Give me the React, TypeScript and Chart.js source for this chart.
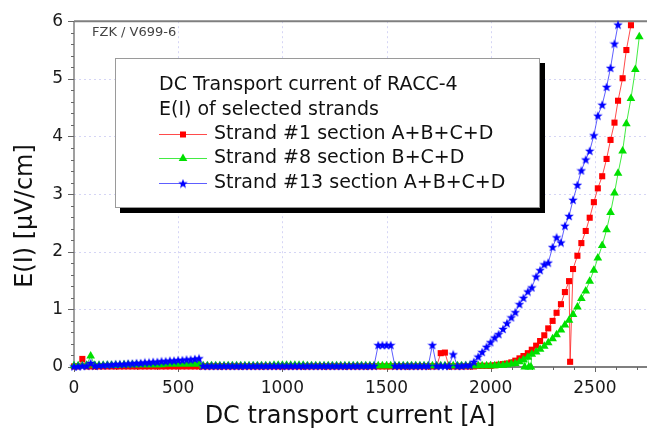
import React, { useEffect, useRef } from 'react';
import { Chart, registerables } from 'chart.js';

Chart.register(...registerables);

const FONT = '"DejaVu Sans", "Liberation Sans", Arial, sans-serif';

// ---- data (current in A, E in µV/cm) ----
const lowCurrent = [
  0, 20, 40, 60, 80, 100, 120, 140, 160, 180, 200, 220, 240, 260, 280, 300, 320, 340, 360, 380,
  400, 420, 440, 460, 480, 500, 520, 540, 560, 580, 600, 620, 640, 660, 680, 700, 720, 740, 760, 780,
  800, 820, 840, 860, 880, 900, 920, 940, 960, 980, 1000, 1020, 1040, 1060, 1080, 1100, 1120, 1140, 1160, 1180,
  1200, 1220, 1240, 1260, 1280, 1300, 1320, 1340, 1360, 1380, 1400, 1420, 1440, 1460, 1480, 1500, 1520, 1540, 1560, 1580,
  1600, 1620, 1640, 1660, 1680, 1700, 1720, 1740, 1760, 1780, 1800, 1820, 1840, 1860, 1880,
];
const highCurrent = [
  1900, 1919, 1940, 1959, 1980, 1999, 2019, 2038, 2059, 2078, 2099, 2118, 2138, 2157, 2178, 2197, 2218, 2237, 2257, 2276,
  2297, 2316, 2337, 2356, 2376, 2395, 2416, 2435, 2456, 2475, 2495, 2514, 2535, 2556, 2575, 2594, 2611, 2633, 2651, 2673,
  2694, 2713,
];

const redLow = [
  0.01, 0.01, 0.14, 0.01, 0.01, 0.01, 0.01, 0.01, 0.01, 0.01, 0.01, 0.01, 0.01, 0.01, 0.01, 0.01, 0.01, 0.01, 0.01, 0.01,
  0.01, 0.01, 0.01, 0.01, 0.01, 0.01, 0.01, 0.01, 0.01, 0.01, 0.01, 0.01, 0.01, 0.01, 0.01, 0.01, 0.01, 0.01, 0.01, 0.01,
  0.01, 0.01, 0.01, 0.01, 0.01, 0.01, 0.01, 0.01, 0.01, 0.01, 0.01, 0.01, 0.01, 0.01, 0.01, 0.01, 0.01, 0.01, 0.01, 0.01,
  0.01, 0.01, 0.01, 0.01, 0.01, 0.01, 0.01, 0.01, 0.01, 0.01, 0.01, 0.01, 0.01, 0.01, 0.01, 0.01, 0.01, 0.01, 0.01, 0.01,
  0.01, 0.01, 0.01, 0.01, 0.01, 0.01, 0.01, 0.01, 0.24, 0.25, 0.01, 0.01, 0.01, 0.01, 0.01,
];
const redHigh = [
  0.01, 0.01, 0.02, 0.02, 0.02, 0.02, 0.03, 0.04, 0.05, 0.06, 0.08, 0.11, 0.15, 0.19, 0.24, 0.30, 0.37, 0.45, 0.55, 0.67,
  0.80, 0.94, 1.09, 1.30, 1.49, 1.70, 1.93, 2.15, 2.36, 2.59, 2.86, 3.10, 3.31, 3.61, 3.94, 4.24, 4.62, 5.01, 5.50, 5.93,
  null, null,
];
const redDropCurrent = [2381];
const redDropE = [0.09];

const greenLow = [
  0.02, 0.02, 0.02, 0.03, 0.19, 0.03, 0.03, 0.03, 0.03, 0.03, 0.03, 0.03, 0.04, 0.04, 0.04, 0.04, 0.04, 0.04, 0.04, 0.04,
  0.04, 0.04, 0.05, 0.05, 0.05, 0.05, 0.05, 0.05, 0.05, 0.05, 0.05, 0.02, 0.02, 0.02, 0.02, 0.02, 0.02, 0.02, 0.02, 0.02,
  0.02, 0.02, 0.02, 0.02, 0.02, 0.02, 0.02, 0.02, 0.03, 0.03, 0.03, 0.03, 0.03, 0.03, 0.03, 0.03, 0.02, 0.02, 0.02, 0.02,
  0.02, 0.02, 0.02, 0.02, 0.02, 0.02, 0.02, 0.02, 0.02, 0.02, 0.02, 0.02, 0.02, 0.02, 0.02, 0.02, 0.02, 0.02, 0.02, 0.02,
  0.02, 0.02, 0.02, 0.02, 0.02, 0.02, 0.02, 0.02, 0.02, 0.02, 0.02, 0.02, 0.02, 0.02, 0.02,
];
const greenHigh = [
  0.02, 0.02, 0.02, 0.02, 0.02, 0.02, 0.02, 0.03, 0.03, 0.04, 0.05, 0.06, 0.09, 0.125, 0.17, 0.22, 0.26, 0.31, 0.36, 0.42,
  0.49, 0.56, 0.64, 0.73, 0.81, 0.91, 1.04, 1.19, 1.32, 1.49, 1.68, 1.89, 2.11, 2.38, 2.68, 3.02, 3.36, 3.75, 4.22, 4.66,
  5.16, 5.73,
];
const greenDropCurrent = [2163, 2183, 2193];
const greenDropE = [0, 0, 0];

const blueLow = [
  0.01, 0.01, 0.02, 0.02, 0.07, 0.02, 0.03, 0.03, 0.04, 0.04, 0.05, 0.05, 0.05, 0.06, 0.06, 0.07, 0.07, 0.08, 0.08, 0.09,
  0.09, 0.10, 0.10, 0.11, 0.11, 0.12, 0.12, 0.13, 0.13, 0.14, 0.15, 0.02, 0.02, 0.02, 0.02, 0.02, 0.02, 0.02, 0.02, 0.02,
  0.02, 0.02, 0.02, 0.02, 0.02, 0.02, 0.02, 0.02, 0.02, 0.02, 0.02, 0.02, 0.02, 0.02, 0.02, 0.02, 0.02, 0.02, 0.02, 0.02,
  0.02, 0.02, 0.02, 0.02, 0.02, 0.02, 0.02, 0.02, 0.02, 0.02, 0.02, 0.02, 0.02, 0.38, 0.38, 0.38, 0.38, 0.02, 0.02, 0.02,
  0.02, 0.02, 0.02, 0.02, 0.02, 0.02, 0.38, 0.02, 0.02, 0.02, 0.02, 0.22, 0.02, 0.02, 0.03,
];
const blueHigh = [
  0.03, 0.09, 0.18, 0.26, 0.35, 0.43, 0.51, 0.57, 0.66, 0.76, 0.86, 0.95, 1.09, 1.20, 1.31, 1.38, 1.57, 1.68, 1.78, 1.81,
  2.08, 2.25, 2.16, 2.45, 2.62, 2.90, 3.16, 3.41, 3.60, 3.75, 4.02, 4.36, 4.55, 4.86, 5.19, 5.61, 5.94, null, null, null,
  null, null,
];

// ---- axes ----
const xMajorTicks = [0, 500, 1000, 1500, 2000, 2500];
const xMinorTicks = [100, 200, 300, 400, 600, 700, 800, 900, 1100, 1200, 1300, 1400, 1600, 1700, 1800, 1900, 2100, 2200, 2300, 2400, 2600, 2700];
const yMajorTicks = [0, 1, 2, 3, 4, 5, 6];
const yMinorTicks = [0.2, 0.4, 0.6, 0.8, 1.2, 1.4, 1.6, 1.8, 2.2, 2.4, 2.6, 2.8, 3.2, 3.4, 3.6, 3.8, 4.2, 4.4, 4.6, 4.8, 5.2, 5.4, 5.6, 5.8];
const xGridLines = [500, 1000, 1500, 2000, 2500];
const yGridLines = [1, 2, 3, 4, 5];
const xMin = 0;
const xMax = 2750;
const yMin = 0;
const yMax = 6;

// ---- texts ----
const legendTitle = ['DC Transport current of RACC-4', 'E(I) of selected strands'];
const seriesNames = ['Strand #1 section A+B+C+D', 'Strand #8 section B+C+D', 'Strand #13 section A+B+C+D'];
const xTitle = 'DC transport current [A]';
const yTitle = 'E(I) [µV/cm]';
const stampText = 'FZK / V699-6';

const RED = '#ff0000';
const GREEN = '#00e000';
const BLUE = '#0000ff';
const RED_LINE = 'rgba(255,30,30,0.8)';
const GREEN_LINE = 'rgba(20,230,20,0.8)';
const BLUE_LINE = 'rgba(40,40,255,0.75)';

function toPoints(xs: number[], ys: (number | null)[], extraX: number[] = [], extraY: number[] = []) {
  const pts: { x: number; y: number }[] = [];
  xs.forEach((x, i) => {
    const v = ys[i];
    if (v !== null && v !== undefined) pts.push({ x, y: v });
  });
  extraX.forEach((x, i) => pts.push({ x, y: extraY[i] }));
  return pts.sort((a, b) => a.x - b.x);
}

function makeStar(color: string, size: number) {
  const c = document.createElement('canvas');
  c.width = size;
  c.height = size;
  const g = c.getContext('2d')!;
  const cx = size / 2, cy = size / 2 + 0.4, ro = size / 2, ri = size * 0.21;
  g.beginPath();
  for (let i = 0; i < 10; i++) {
    const r = i % 2 === 0 ? ro : ri;
    const a = -Math.PI / 2 + (i * Math.PI) / 5;
    const px = cx + r * Math.cos(a), py = cy + r * Math.sin(a);
    if (i === 0) g.moveTo(px, py); else g.lineTo(px, py);
  }
  g.closePath();
  g.fillStyle = color;
  g.fill();
  return c;
}

function drawMarker(ctx: CanvasRenderingContext2D, kind: number, x: number, y: number, star: HTMLCanvasElement) {
  ctx.save();
  if (kind === 0) {
    ctx.fillStyle = RED;
    ctx.fillRect(x - 3, y - 3, 6, 6);
  } else if (kind === 1) {
    ctx.fillStyle = GREEN;
    ctx.beginPath();
    ctx.moveTo(x, y - 5);
    ctx.lineTo(x + 4.3, y + 2.5);
    ctx.lineTo(x - 4.3, y + 2.5);
    ctx.closePath();
    ctx.fill();
  } else {
    ctx.drawImage(star, x - star.width / 2, y - star.height / 2);
  }
  ctx.restore();
}

export default function App() {
  const ref = useRef<HTMLCanvasElement | null>(null);

  useEffect(() => {
    document.body.style.margin = '0';
    const canvas = ref.current;
    if (!canvas) return;
    const star = makeStar(BLUE, 10);

    const deco = {
      id: 'deco',
      beforeDatasetsDraw(chart: any) {
        const { ctx, chartArea: a, scales } = chart;
        const xs = scales.x, ys = scales.y;
        ctx.save();
        // dotted grid
        ctx.strokeStyle = 'rgba(150,150,230,0.4)';
        ctx.lineWidth = 1;
        ctx.setLineDash([2, 3]);
        xGridLines.forEach((v) => {
          const px = Math.round(xs.getPixelForValue(v)) + 0.5;
          ctx.beginPath(); ctx.moveTo(px, a.top); ctx.lineTo(px, a.bottom); ctx.stroke();
        });
        yGridLines.forEach((v) => {
          const py = Math.round(ys.getPixelForValue(v)) + 0.5;
          ctx.beginPath(); ctx.moveTo(a.left, py); ctx.lineTo(a.right, py); ctx.stroke();
        });
        ctx.setLineDash([]);
        // frame lines
        ctx.strokeStyle = '#7f7f7f';
        ctx.lineWidth = 2;
        ctx.beginPath(); ctx.moveTo(a.left, a.top); ctx.lineTo(a.right, a.top); ctx.stroke();
        ctx.beginPath(); ctx.moveTo(a.left - 1, a.bottom); ctx.lineTo(a.right, a.bottom); ctx.stroke();
        ctx.lineWidth = 1.5;
        ctx.beginPath(); ctx.moveTo(a.left, a.top); ctx.lineTo(a.left, a.bottom); ctx.stroke();
        // tick marks
        ctx.strokeStyle = '#666';
        ctx.lineWidth = 1;
        const tickX = (v: number, len: number) => {
          const px = Math.round(xs.getPixelForValue(v)) + 0.5;
          ctx.beginPath(); ctx.moveTo(px, a.bottom); ctx.lineTo(px, a.bottom + len); ctx.stroke();
        };
        const tickY = (v: number, len: number) => {
          const py = Math.round(ys.getPixelForValue(v)) + 0.5;
          ctx.beginPath(); ctx.moveTo(a.left, py); ctx.lineTo(a.left - len, py); ctx.stroke();
        };
        xMajorTicks.forEach((v) => tickX(v, 5));
        xMinorTicks.forEach((v) => tickX(v, 3));
        yMajorTicks.forEach((v) => tickY(v, 6));
        yMinorTicks.forEach((v) => tickY(v, 3));
        // stamp
        ctx.fillStyle = '#444';
        ctx.font = `13px ${FONT}`;
        ctx.textAlign = 'left';
        ctx.textBaseline = 'middle';
        ctx.fillText(stampText, 92, 33);
        ctx.restore();
      },
      afterDraw(chart: any) {
        const { ctx } = chart;
        ctx.save();
        // axis titles
        ctx.fillStyle = '#111';
        ctx.font = `24px ${FONT}`;
        ctx.textAlign = 'center';
        ctx.textBaseline = 'alphabetic';
        ctx.fillText(xTitle, 350, 423);
        ctx.save();
        ctx.translate(32, 216);
        ctx.rotate(-Math.PI / 2);
        ctx.fillText(yTitle, 0, 0);
        ctx.restore();

        // legend box with shadow
        const bx = 115, by = 58, bw = 424, bh = 149;
        ctx.fillStyle = '#000';
        ctx.fillRect(bx + bw + 1, by + 5, 5, bh + 1);
        ctx.fillRect(bx + 5, by + bh + 1, bw + 1, 5);
        ctx.fillStyle = '#fff';
        ctx.fillRect(bx, by, bw, bh);
        ctx.strokeStyle = '#9a9a9a';
        ctx.lineWidth = 1;
        ctx.strokeRect(bx + 0.5, by + 0.5, bw, bh);

        ctx.fillStyle = '#111';
        ctx.font = `19px ${FONT}`;
        ctx.textAlign = 'left';
        ctx.textBaseline = 'middle';
        const rows = [85, 110, 134, 158, 183];
        ctx.fillText(legendTitle[0], 159, rows[0]);
        ctx.fillText(legendTitle[1], 159, rows[1]);
        const cols = [RED_LINE, GREEN_LINE, BLUE_LINE];
        seriesNames.forEach((name, i) => {
          const yy = rows[2 + i];
          ctx.strokeStyle = cols[i];
          ctx.lineWidth = 1;
          ctx.beginPath(); ctx.moveTo(159, yy + 0.5); ctx.lineTo(207, yy + 0.5); ctx.stroke();
          drawMarker(ctx, i, 183, yy + 0.5, star);
          ctx.fillStyle = '#111';
          ctx.fillText(name, 214, yy);
        });
        ctx.restore();
      },
    };

    const chart = new Chart(canvas, {
      type: 'line',
      data: {
        datasets: [
          {
            label: seriesNames[0],
            data: toPoints(lowCurrent.concat(highCurrent), (redLow as (number | null)[]).concat(redHigh), redDropCurrent, redDropE),
            borderColor: RED_LINE,
            backgroundColor: RED,
            borderWidth: 1,
            pointStyle: 'rect',
            pointRadius: 4.3,
            pointBorderWidth: 0,
            pointBackgroundColor: RED,
            tension: 0,
            clip: false as any,
            order: 3,
          },
          {
            label: seriesNames[1],
            data: toPoints(lowCurrent.concat(highCurrent), (greenLow as (number | null)[]).concat(greenHigh), greenDropCurrent, greenDropE),
            borderColor: GREEN_LINE,
            backgroundColor: GREEN,
            borderWidth: 1,
            pointStyle: 'triangle',
            pointRadius: 5,
            pointBorderWidth: 0,
            pointBackgroundColor: GREEN,
            tension: 0,
            clip: false as any,
            order: 2,
          },
          {
            label: seriesNames[2],
            data: toPoints(lowCurrent.concat(highCurrent), (blueLow as (number | null)[]).concat(blueHigh)),
            borderColor: BLUE_LINE,
            backgroundColor: BLUE,
            borderWidth: 1,
            pointStyle: star as any,
            pointRadius: 5,
            pointBorderWidth: 0,
            tension: 0,
            clip: false as any,
            order: 1,
          },
        ],
      },
      options: {
        animation: false,
        responsive: false,
        devicePixelRatio: 1,
        parsing: false as any,
        normalized: true,
        events: [],
        layout: { padding: { top: 15, right: 0, left: 0, bottom: 0 } },
        plugins: { legend: { display: false }, tooltip: { enabled: false } },
        scales: {
          x: {
            type: 'linear',
            min: xMin,
            max: xMax,
            afterBuildTicks: (s: any) => { s.ticks = xMajorTicks.map((v) => ({ value: v })); },
            afterFit: (s: any) => { s.height = 62; },
            grid: { display: false, drawTicks: false },
            border: { display: false },
            ticks: {
              font: { family: FONT, size: 17 },
              color: '#1a1a1a',
              padding: 11,
              maxRotation: 0,
              autoSkip: false,
              callback: (v: any) => String(v),
            },
          },
          y: {
            type: 'linear',
            min: yMin,
            max: yMax,
            afterBuildTicks: (s: any) => { s.ticks = yMajorTicks.map((v) => ({ value: v })); },
            afterFit: (s: any) => { s.width = 74; },
            grid: { display: false, drawTicks: false },
            border: { display: false },
            ticks: {
              font: { family: FONT, size: 17 },
              color: '#1a1a1a',
              padding: 11,
              autoSkip: false,
              callback: (v: any) => String(v),
            },
          },
        },
      },
      plugins: [deco],
    } as any);

    return () => chart.destroy();
  }, []);

  return (
    <div style={{ width: 652, height: 429, background: '#fff' }}>
      <canvas ref={ref} width={652} height={429} style={{ display: 'block', width: 652, height: 429 }} />
    </div>
  );
}
